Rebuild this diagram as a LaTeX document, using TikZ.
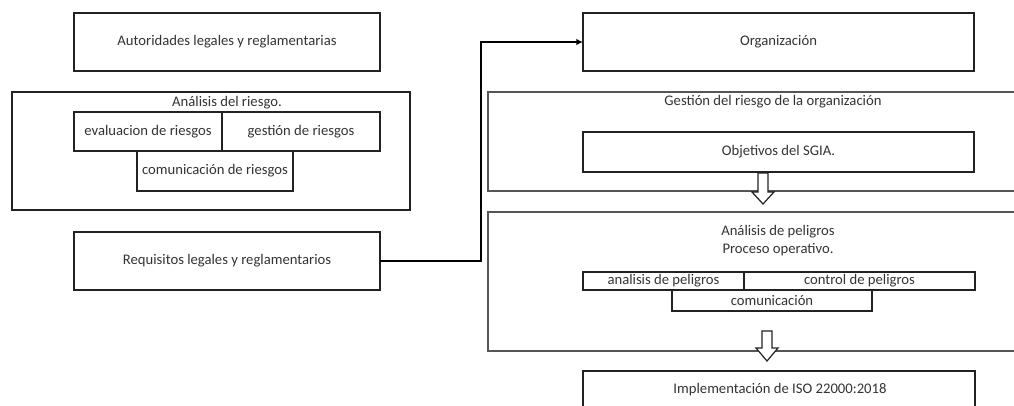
\documentclass[tikz,border=0pt]{standalone}
\usepackage{fontspec}
\setmainfont{Carlito}
\usetikzlibrary{arrows.meta}
\definecolor{txt}{HTML}{333333}
\definecolor{frame}{HTML}{222222}
\definecolor{outer}{HTML}{555555}
\begin{document}
\begin{tikzpicture}[x=0.75pt,y=-0.75pt,
  bx/.style 2 args={draw=frame, line width=1.2pt, rectangle, inner sep=0pt, outer sep=0pt,
    minimum width=#1*0.75pt, minimum height=#2*0.75pt, anchor=north west,
    font=\fontsize{11}{13}\selectfont, text=txt},
  wide/.style={draw=outer},
  lbl/.style={inner sep=0pt, font=\fontsize{11}{13}\selectfont, text=txt},
  link/.style={line width=1.7pt, -{Latex[length=5pt,width=5pt]}},
  blockarrow/.style={draw=frame, line width=0.9pt, fill=white}]
\useasboundingbox (0,0) rectangle (1014,405);
\clip (0,0) rectangle (1014,405);

% left column
\node[bx={306}{58}] (auth) at (74,13) {Autoridades legales y reglamentarias};
\node[bx={398}{118}] (ana) at (12,92) {};
\node[lbl] (anat) at (227,103) {Análisis del riesgo.};
\node[bx={148}{39}] (eval) at (74,112) {evaluacion de riesgos};
\node[bx={158}{39}] (gest) at (222,112) {gestión de riesgos};
\node[bx={156}{40}] (comr) at (137,151) {comunicación de riesgos};
\node[bx={306}{58}] (req) at (74,232) {Requisitos legales y reglamentarios};

% right column
\node[bx={391}{58}] (org) at (583,13) {Organización};
\node[bx={560}{99},wide] (gorg) at (488,92) {};
\node[lbl] (gorgt) at (773,102) {Gestión del riesgo de la organización};
\node[bx={391}{40}] (obj) at (583,132) {Objetivos del SGIA.};
\node[bx={560}{139},wide] (pel) at (488,212) {};
\node[lbl] (pelt1) at (778,232) {Análisis de peligros};
\node[lbl] (pelt2) at (778,250) {Proceso operativo.};
\node[bx={161}{18}] (ap) at (583,272) {analisis de peligros};
\node[bx={231}{18}] (cp) at (744,272) {control de peligros};
\node[bx={200}{21}] (com) at (672,290) {comunicación};
\node[bx={392}{60}] (impl) at (583,371) {};
\node[lbl] (implt) at (780,390) {Implementación de ISO 22000:2018};

% connector from the requirements to the organisation
\draw[link] (req.east) -- (481,261) |- (org.west);

% hollow block arrows between the stages
\coordinate (a1) at (763,173);
\draw[blockarrow] ([xshift=-5*0.75pt]a1) -- ++(0,19) -- ++(-6,0) -- (763,204)
  -- (774,192) -- (768,192) -- (768,173) -- cycle;
\coordinate (a2) at (767,331);
\draw[blockarrow] ([xshift=-5*0.75pt]a2) -- ++(0,17) -- ++(-6,0) -- (767,361)
  -- (778,348) -- (772,348) -- (772,331) -- cycle;
\end{tikzpicture}
\end{document}
